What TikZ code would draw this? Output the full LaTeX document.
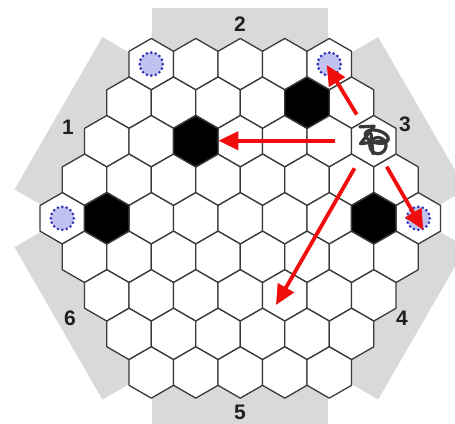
\documentclass[tikz,border=0pt]{standalone}
\usepackage{fontspec}
\setmainfont{Liberation Sans}
\usetikzlibrary{arrows.meta}
\definecolor{bandgray}{HTML}{D9D9D9}
\definecolor{hexline}{HTML}{3A3A3A}
\definecolor{goalfill}{HTML}{C2C2F0}
\definecolor{goaldot}{HTML}{2B2BB8}
\definecolor{arrowred}{HTML}{F20D0D}
\definecolor{glyphcol}{HTML}{383838}
\newcommand\hs{25.69}
\newcommand\hexcell[2]{\draw[#1, shift={(#2)}] (90:\hs) -- (150:\hs) -- (210:\hs) -- (270:\hs) -- (330:\hs) -- (30:\hs) -- cycle;}
\begin{document}
\begin{tikzpicture}[x=1pt,y=-1pt,
  band/.style={fill=bandgray},
  cell/.style={draw=hexline, line width=1.3pt, fill=white, line join=round},
  stone/.style={cell, fill=black},
  goal/.style={fill=goalfill},
  goaldots/.style={fill=goaldot},
  move/.style={draw=arrowred, line width=3.8pt, -{Triangle[length=20pt,width=18pt]}},
  sidelabel/.style={font=\fontsize{21}{21}\selectfont\bfseries, text=black!88, inner sep=0pt},
  glyphline/.style={draw=glyphcol, line width=3.2pt, line cap=round, line join=round}]
\useasboundingbox (0,0) rectangle (455,423);
\clip (0,0) rectangle (455,423);
\coordinate (C) at (240.3,218.3);
% side bands
\foreach \a in {0,60,...,300}{
  \begin{scope}[shift={(C)}, rotate=\a]
    \fill[band] (-88,0) rectangle (88,210);
  \end{scope}
}
% cell centres
\foreach \i in {0,...,8}{
  \pgfmathtruncatemacro\n{9-abs(\i-4)}
  \pgfmathtruncatemacro\last{\n-1}
  \foreach \j in {0,...,\last}{
    \pgfmathsetmacro\cx{240.3+(\j-(\n-1)/2)*44.5}
    \pgfmathsetmacro\cy{218.3+(\i-4)*38.54}
    \coordinate (h-\i-\j) at (\cx,\cy);
    \hexcell{cell}{h-\i-\j}
  }
}
% stones
\foreach \s in {h-1-4,h-2-2,h-4-1,h-4-7}{\hexcell{stone}{\s}}
% goals
\foreach \g in {h-0-0,h-0-4,h-4-0,h-4-8}{
  \fill[goal] (\g) circle (11.5);
  \foreach \k in {0,22.5,...,337.5}{\fill[goaldots] (\g) ++(\k:11.5) circle (1.45);}
}
% piece glyph
\begin{scope}[shift={(h-2-6)}, shift={(-1.5,-2.5)}, scale=1.25]
  \draw[glyphline] (-10,-9.5) -- (1.5,-10) -- (-9.5,4) -- (11,1.5);
  \draw[glyphline, rotate=-15] (3,-2.5) ellipse (9.5 and 5);
  \draw[glyphline] (4.5,5.5) circle (6.5);
  \draw[glyphline] (-1,-4) -- (0.5,12);
\end{scope}
% labels
\node[sidelabel] (lab1) at (68,127) {1};
\node[sidelabel] (lab2) at (240,24) {2};
\node[sidelabel] (lab3) at (405,124) {3};
\node[sidelabel] (lab4) at (402,318) {4};
\node[sidelabel] (lab5) at (240,412) {5};
\node[sidelabel] (lab6) at (70,318) {6};
% arrows
\coordinate (a1s) at (356.7,114.5);
\coordinate (a1e) at (326.7,65);
\coordinate (a2s) at (335,140.7);
\coordinate (a2e) at (218.3,140.7);
\coordinate (a3s) at (386.7,166.7);
\coordinate (a3e) at (423.3,230);
\coordinate (a4s) at (354.5,168.3);
\coordinate (a4e) at (276,305);
\draw[move] (a1s) -- (a1e);
\draw[move] (a2s) -- (a2e);
\draw[move] (a3s) -- (a3e);
\draw[move] (a4s) -- (a4e);
\end{tikzpicture}
\end{document}
